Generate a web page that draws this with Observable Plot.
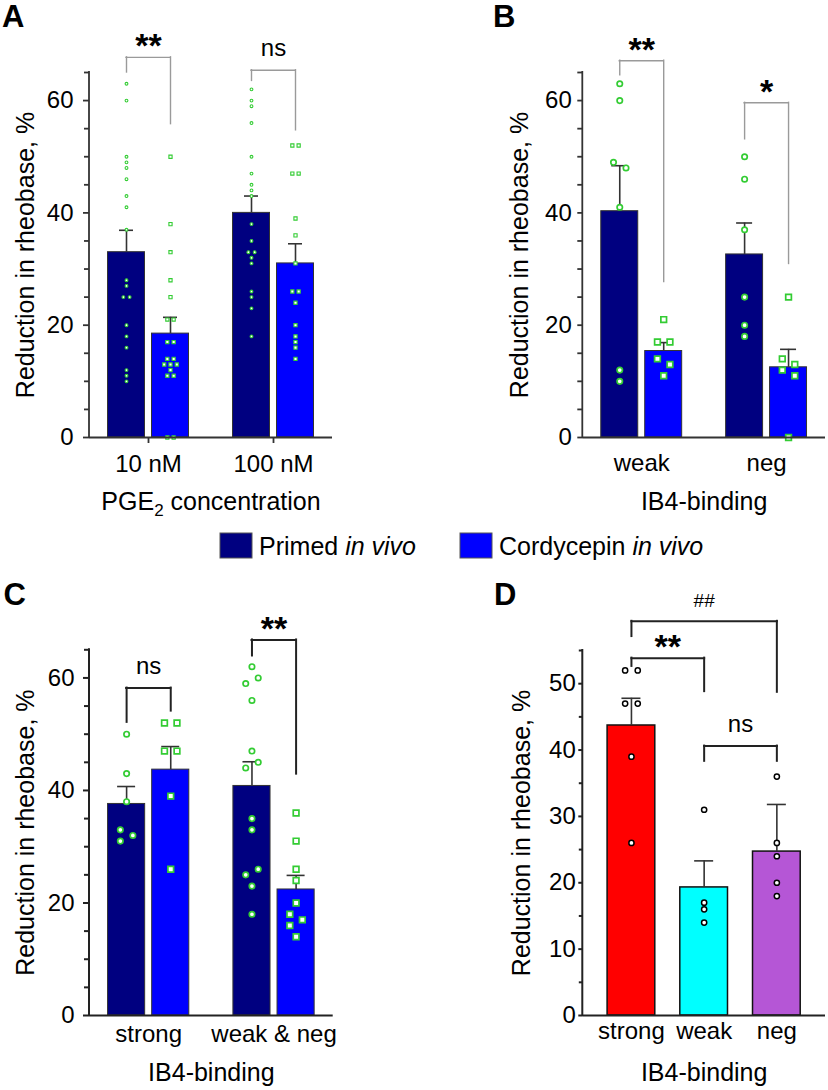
<!DOCTYPE html>
<html>
<head>
<meta charset="utf-8">
<script src="https://cdn.jsdelivr.net/npm/d3@7"></script>
<script src="https://cdn.jsdelivr.net/npm/@observablehq/plot@0.6"></script>
<style>
  body { margin: 0; background: #fff; }
  #fig { position: relative; width: 828px; height: 1090px; overflow: hidden; background: #fff; }
  .panel { position: absolute; }
</style>
</head>
<body>
<div id="fig"></div>
<script>
// ---------------- DATA ----------------
const seriesNames = ["Primed in vivo", "Cordycepin in vivo"];

// Panel A: PGE2 concentration
const aCategories = ["10 nM", "100 nM"];
const aPrimedMean = [33.0, 40.0];
const aPrimedSem  = [3.9, 3.0];
const aCordyMean  = [18.5, 31.0];
const aCordySem   = [2.9, 3.5];
const aPrimed10   = [63, 60, 50, 49, 48, 46, 43, 41, 37, 28, 27, 25, 25, 20, 18, 16, 12, 11, 10];
const aPrimed100  = [62, 60, 59, 56, 50, 47, 45, 44, 43, 38, 35, 33, 33, 32, 31, 26, 25, 23, 18];
const aCordy10    = [50, 38, 33, 28, 25, 21, 21, 17, 17, 14, 14, 13, 13, 13, 12, 11, 11, 0, 0];
const aCordy100   = [52, 52, 47, 47, 39, 36, 31, 26, 26, 24, 20, 18, 17, 16, 14];

// Panel B: IB4-binding (weak / neg)
const bCategories = ["weak", "neg"];
const bPrimedMean = [40.3, 32.6];
const bPrimedSem  = [8.1, 5.6];
const bCordyMean  = [15.4, 12.5];
const bCordySem   = [1.5, 3.2];
const bPrimedWeak = [63, 60, 49, 48, 41, 12, 10];
const bPrimedNeg  = [50, 46, 37, 25, 20, 18];
const bCordyWeak  = [21, 17, 17, 14, 13, 11];
const bCordyNeg   = [25, 14, 13, 12, 11, 0];

// Panel C: IB4-binding (strong / weak & neg)
const cCategories = ["strong", "weak & neg"];
const cPrimedMean = [37.6, 40.8];
const cPrimedSem  = [3.1, 4.3];
const cCordyMean  = [43.7, 22.4];
const cCordySem   = [4.1, 2.5];
const cPrimedStrong  = [50, 43, 38, 33, 32, 31];
const cPrimedWeakNeg = [62, 60, 59, 56, 47, 45, 44, 35, 33, 26, 25, 23, 18];
const cCordyStrong   = [52, 52, 47, 47, 39, 26];
const cCordyWeakNeg  = [36, 31, 26, 24, 20, 18, 17, 16, 14];

// Panel D: IB4-binding (strong / weak / neg)
const dCategories = ["strong", "weak", "neg"];
const dMean = [43.7, 19.3, 24.7];
const dSem  = [4.1, 4.0, 7.1];
const dStrong = [52, 52, 47, 47, 39, 26];
const dWeak   = [31, 17, 16, 14];
const dNeg    = [36, 26, 24, 20, 18];

// Significance brackets (levels in % units)
const aSig = [
  {cat: "10 nM",  label: "**", top: 67.7, left: 65.0, right: 55.8},
  {cat: "100 nM", label: "ns", top: 65.4, left: 63.5, right: 54.7}
];
const bSig = [
  {cat: "weak", label: "**", top: 67.1, left: 64.5, right: 27.7},
  {cat: "neg",  label: "*",  top: 59.6, left: 53.1, right: 30.9}
];
const cSig = [
  {cat: "strong",     label: "ns", top: 58.2,  left: 52.1, right: 54.1},
  {cat: "weak & neg", label: "**", top: 66.75, left: 63.9, right: 42.9}
];
const dSig = [
  {from: "strong", to: "neg",  label: "##", top: 59.4,  left: 57.1, right: 48.7},
  {from: "strong", to: "weak", label: "**", top: 53.85, left: 52.6, right: 48.8},
  {from: "weak",   to: "neg",  label: "ns", top: 40.6,  left: 38.3, right: 38.3}
];

// ---------------- STYLE ----------------
const FONT = "'Liberation Sans', Arial, Helvetica, sans-serif";
const seriesColors = ["#000080", "#0000ff"];
const seriesSymbols = ["circle", "square"];
const dColors = ["#ff0000", "#00ffff", "#b556d6"];
const green = "#33cc33";
const yTitle = "Reduction in rheobase, %";

// beeswarm-like dodge: integer slots, then centre each colliding cluster
function dodge(values, ppu, threshold, ascending) {
  const n = values.length;
  const slot = new Array(n);
  if (!n) return slot;
  const order = d3.range(n).sort((i, j) => ascending ? values[i] - values[j] : values[j] - values[i]);
  const placed = [];
  for (const i of order) {
    for (let k = 0; ; k++) {
      const s = k === 0 ? 0 : (k % 2 ? (k + 1) / 2 : -k / 2);
      if (!placed.some(j => slot[j] === s && Math.abs(values[j] - values[i]) * ppu < threshold)) { slot[i] = s; break; }
    }
    placed.push(i);
  }
  const sorted = d3.range(n).sort((i, j) => values[i] - values[j]);
  const comp = new Array(n);
  let c = 0; comp[sorted[0]] = 0;
  for (let t = 1; t < n; t++) {
    if ((values[sorted[t]] - values[sorted[t - 1]]) * ppu >= threshold) c++;
    comp[sorted[t]] = c;
  }
  for (let k = 0; k <= c; k++) {
    const members = d3.range(n).filter(i => comp[i] === k);
    const mid = (d3.min(members, i => slot[i]) + d3.max(members, i => slot[i])) / 2;
    members.forEach(i => slot[i] -= mid);
  }
  return slot;
}

function yAxisLine(o) {
  return (index, scales, values, dims) =>
    d3.create("svg:line")
      .attr("x1", dims.marginLeft).attr("x2", dims.marginLeft)
      .attr("y1", dims.marginTop).attr("y2", dims.height - dims.marginBottom)
      .attr("stroke", o.axisColor).attr("stroke-width", o.axisWidth)
      .attr("stroke-linecap", "square").node();
}

function axisMarks(o) {
  const major = d3.range(0, o.yMax + 1e-9, o.majorStep);
  const minor = d3.range(0, o.yMax + 1e-9, o.minorStep).filter(v => !major.includes(v));
  return [
    Plot.ruleY([0], {stroke: o.axisColor, strokeWidth: o.axisWidth}),
    yAxisLine(o),
    Plot.axisY({ticks: major, tickSize: o.yTickSize, tickPadding: o.yTickPadding, label: null,
                stroke: o.axisColor, strokeWidth: o.axisWidth, fontSize: 24}),
    Plot.axisY({ticks: minor, tickSize: o.yMinorSize, tickFormat: () => "", label: null,
                stroke: o.axisColor, strokeWidth: o.axisWidth}),
    Plot.axisX({tickSize: o.xTickSize, tickPadding: o.xTickPadding, label: null,
                stroke: o.axisColor, strokeWidth: o.axisWidth, fontSize: 24}),
    Plot.text([yTitle], {frameAnchor: "left", rotate: -90, dx: o.yTitleDx, lineAnchor: "bottom",
                textAnchor: "middle", fontSize: 25, text: d => d}),
    Plot.text([o.xTitle], {frameAnchor: "bottom", dy: o.xTitleDy, lineAnchor: "bottom",
                textAnchor: "middle", fontSize: 25, text: d => d})
  ];
}

function bandGeometry(o, n) {
  const step = (o.width - o.marginLeft - o.marginRight) / (n - o.paddingInner + 2 * o.paddingOuter);
  return {step, bw: step * (1 - o.paddingInner)};
}

function groupedPanel(o) {
  const ppu = (o.height - o.marginTop - o.marginBottom) / o.yMax;
  const {bw} = bandGeometry(o, o.categories.length);
  const barW = bw * o.barFrac;
  const off = (bw - barW) / 2;
  const bars = o.categories.flatMap((c, i) => [0, 1].map(g => ({cat: c, g, mean: o.means[g][i], sem: o.sems[g][i]})));
  const pts = [];
  o.categories.forEach((c, i) => [0, 1].forEach(g => {
    const vals = o.points[g][i];
    const slots = dodge(vals, ppu, o.threshold, o.ascending);
    vals.forEach((v, k) => pts.push({cat: c, g, v, slot: slots[k]}));
  }));
  const marks = [];
  [0, 1].forEach(g => {
    const rows = bars.filter(d => d.g === g);
    const sgn = g ? 1 : -1;
    marks.push(Plot.barY(rows, {x: "cat", y: "mean", fill: seriesColors[g], stroke: o.barStroke,
      strokeWidth: o.barStrokeWidth, insetLeft: g ? bw - barW : 0, insetRight: g ? 0 : bw - barW}));
    marks.push(Plot.ruleX(rows, {x: "cat", y1: "mean", y2: d => d.mean + d.sem, dx: sgn * off,
      stroke: o.errColor, strokeWidth: o.errWidth}));
    marks.push(Plot.tickY(rows, {x: "cat", y: d => d.mean + d.sem,
      insetLeft: bw / 2 + sgn * off - o.capW / 2, insetRight: bw / 2 - sgn * off - o.capW / 2,
      stroke: o.errColor, strokeWidth: o.errWidth}));
  });
  [0, 1].forEach(g => {
    const sgn = g ? 1 : -1;
    const mine = pts.filter(p => p.g === g);
    [...new Set(mine.map(p => p.slot))].forEach(sv => {
      marks.push(Plot.dot(mine.filter(p => p.slot === sv), {x: "cat", y: "v", dx: sgn * off + sv * o.spacing,
        r: o.r[g], symbol: seriesSymbols[g], fill: "white", stroke: green, strokeWidth: o.pointSW}));
    });
  });
  marks.push(...axisMarks(o));
  const bstyle = {stroke: o.bracketColor, strokeWidth: o.bracketWidth, strokeLinecap: "square"};
  marks.push(Plot.ruleX(o.sig, {x: "cat", y1: "left", y2: "top", dx: -off, ...bstyle}));
  marks.push(Plot.ruleX(o.sig, {x: "cat", y1: "right", y2: "top", dx: off, ...bstyle}));
  marks.push(Plot.tickY(o.sig, {x: "cat", y: "top", insetLeft: bw / 2 - off, insetRight: bw / 2 - off, ...bstyle}));
  marks.push(Plot.text(o.sig.filter(d => d.label.includes("*")), {x: "cat", y: "top", text: "label",
    lineAnchor: "bottom", fontSize: 34, fontWeight: "bold"}));
  marks.push(Plot.text(o.sig.filter(d => !d.label.includes("*")), {x: "cat", y: "top", text: "label",
    lineAnchor: "bottom", dy: -14, fontSize: 24}));
  return Plot.plot({
    width: o.width, height: o.height,
    marginLeft: o.marginLeft, marginRight: o.marginRight, marginTop: o.marginTop, marginBottom: o.marginBottom,
    x: {type: "band", domain: o.categories, paddingInner: o.paddingInner, paddingOuter: o.paddingOuter, align: 0.5, round: false},
    y: {domain: [0, o.yMax]},
    style: {background: "transparent", overflow: "visible", fontFamily: FONT, fontSize: "24px", color: "black"},
    marks
  });
}

function singlePanel(o) {
  const ppu = (o.height - o.marginTop - o.marginBottom) / o.yMax;
  const {bw, step} = bandGeometry(o, o.categories.length);
  const rows = o.categories.map((c, i) => ({cat: c, mean: o.means[i], sem: o.sems[i]}));
  const pts = [];
  o.categories.forEach((c, i) => {
    const vals = o.points[i];
    const slots = dodge(vals, ppu, o.threshold, o.ascending);
    vals.forEach((v, k) => pts.push({cat: c, v, slot: slots[k]}));
  });
  const marks = [
    Plot.barY(rows, {x: "cat", y: "mean", fill: "cat", stroke: o.barStroke, strokeWidth: o.barStrokeWidth}),
    Plot.ruleX(rows, {x: "cat", y1: "mean", y2: d => d.mean + d.sem, stroke: o.errColor, strokeWidth: o.errWidth}),
    Plot.tickY(rows, {x: "cat", y: d => d.mean + d.sem, insetLeft: (bw - o.capW) / 2, insetRight: (bw - o.capW) / 2,
      stroke: o.errColor, strokeWidth: o.errWidth})
  ];
  [...new Set(pts.map(p => p.slot))].forEach(sv => {
    marks.push(Plot.dot(pts.filter(p => p.slot === sv), {x: "cat", y: "v", dx: sv * o.spacing,
      r: o.r, fill: "white", stroke: "black", strokeWidth: o.pointSW}));
  });
  marks.push(...axisMarks(o));
  const bstyle = {stroke: o.bracketColor, strokeWidth: o.bracketWidth, strokeLinecap: "square"};
  marks.push(Plot.ruleX(o.sig, {x: "from", y1: "left", y2: "top", ...bstyle}));
  marks.push(Plot.ruleX(o.sig, {x: "to", y1: "right", y2: "top", ...bstyle}));
  marks.push(Plot.link(o.sig, {x1: "from", x2: "to", y1: "top", y2: "top", ...bstyle}));
  o.sig.forEach(s => {
    const span = o.categories.indexOf(s.to) - o.categories.indexOf(s.from);
    const star = s.label.includes("*");
    marks.push(Plot.text([s], {x: "from", y: "top", text: "label", dx: span * step / 2, lineAnchor: "bottom",
      dy: star ? 0 : -14, fontSize: star ? 34 : (s.label === "##" ? 19 : 24), fontWeight: star ? "bold" : "normal"}));
  });
  return Plot.plot({
    width: o.width, height: o.height,
    marginLeft: o.marginLeft, marginRight: o.marginRight, marginTop: o.marginTop, marginBottom: o.marginBottom,
    x: {type: "band", domain: o.categories, paddingInner: o.paddingInner, paddingOuter: o.paddingOuter, align: 0.5, round: false},
    y: {domain: [0, o.yMax]},
    color: {domain: o.categories, range: dColors},
    style: {background: "transparent", overflow: "visible", fontFamily: FONT, fontSize: "24px", color: "black"},
    marks
  });
}

const lightCommon = {
  yMax: 65, majorStep: 20, minorStep: 5, paddingInner: 0.352, paddingOuter: 0.148, barFrac: 37 / 81,
  barStroke: "#333", barStrokeWidth: 1, errColor: "#333", errWidth: 1.6,
  axisColor: "#333", axisWidth: 1.8, yMinorSize: 5
};

const panelA = groupedPanel({
  ...lightCommon, width: 414, height: 520, marginLeft: 89, marginRight: 82, marginTop: 72, marginBottom: 83,
  categories: aCategories, means: [aPrimedMean, aCordyMean], sems: [aPrimedSem, aCordySem],
  points: [[aPrimed10, aPrimed100], [aCordy10, aCordy100]],
  xTickSize: 6, xTickPadding: 11, yTickSize: 6, yTickPadding: 10, capW: 14,
  r: [1.4, 1.8], pointSW: 1.1, spacing: 6.3, threshold: 4, ascending: false,
  bracketColor: "#9a9a9a", bracketWidth: 1.4, sig: aSig,
  xTitle: "PGE2 concentration", xTitleDy: 72, yTitleDx: -56
});

const panelB = groupedPanel({
  ...lightCommon, width: 414, height: 520, marginLeft: 168.3, marginRight: 3, marginTop: 72, marginBottom: 83,
  categories: bCategories, means: [bPrimedMean, bCordyMean], sems: [bPrimedSem, bCordySem],
  points: [[bPrimedWeak, bPrimedNeg], [bCordyWeak, bCordyNeg]],
  xTickSize: 0, xTickPadding: 16, yTickSize: 5, yTickPadding: 6, capW: 16,
  r: [2.7, 3.2], pointSW: 1.7, spacing: 12.5, threshold: 8, ascending: false,
  bracketColor: "#9a9a9a", bracketWidth: 1.4, sig: bSig,
  xTitle: "IB4-binding", xTitleDy: 72, yTitleDx: -55
});

const panelC = groupedPanel({
  ...lightCommon, width: 414, height: 530, marginLeft: 89, marginRight: 81.3, marginTop: 89.3, marginBottom: 75,
  axisColor: "#222", axisWidth: 2,
  categories: cCategories, means: [cPrimedMean, cCordyMean], sems: [cPrimedSem, cCordySem],
  points: [[cPrimedStrong, cPrimedWeakNeg], [cCordyStrong, cCordyWeakNeg]],
  xTickSize: 0, xTickPadding: 9, yTickSize: 6, yTickPadding: 9, capW: 18,
  r: [2.7, 3.2], pointSW: 1.7, spacing: 12.5, threshold: 8, ascending: true,
  bracketColor: "#222", bracketWidth: 2, sig: cSig,
  xTitle: "IB4-binding", xTitleDy: 65, yTitleDx: -56
});

const panelD = singlePanel({
  width: 414, height: 530, marginLeft: 168.3, marginRight: 3, marginTop: 90, marginBottom: 75,
  yMax: 55, majorStep: 10, minorStep: 5, paddingInner: 0.344, paddingOuter: 0.341,
  barStroke: "#111", barStrokeWidth: 1.5, errColor: "#333", errWidth: 1.6,
  axisColor: "#222", axisWidth: 2, yMinorSize: 3.5,
  categories: dCategories, means: dMean, sems: dSem, points: [dStrong, dWeak, dNeg],
  xTickSize: 0, xTickPadding: 6.5, yTickSize: 4, yTickPadding: 3, capW: 19,
  r: 2.6, pointSW: 1.5, spacing: 12.6, threshold: 5, ascending: false,
  bracketColor: "#222", bracketWidth: 2, sig: dSig,
  xTitle: "IB4-binding", xTitleDy: 65, yTitleDx: -53
});

// subscript in "PGE2"
d3.select(panelA).selectAll("text").filter(function () { return this.textContent === "PGE2 concentration"; })
  .each(function () {
    const t = d3.select(this).text(null);
    t.append("tspan").text("PGE");
    t.append("tspan").attr("dy", 6).attr("font-size", 17).text("2");
    t.append("tspan").attr("dy", -6).text(" concentration");
  });

const fig = document.getElementById("fig");
[[panelA, 0, 0], [panelB, 414, 0], [panelC, 0, 560], [panelD, 414, 560]].forEach(([el, x, y]) => {
  el.classList.add("panel");
  el.style.left = x + "px";
  el.style.top = y + "px";
  fig.appendChild(el);
});

// panel letters and legend
const ov = d3.create("svg").attr("width", 828).attr("height", 1090)
  .style("position", "absolute").style("left", "0px").style("top", "0px")
  .style("pointer-events", "none").style("font-family", FONT);
[["A", 2, 27], ["B", 493, 27], ["C", 3.5, 605], ["D", 494, 605]].forEach(([t, x, y]) =>
  ov.append("text").attr("x", x).attr("y", y).attr("font-size", 31).attr("font-weight", "bold").text(t));
const legendX = [220, 460];
seriesNames.forEach((name, i) => {
  const [main] = name.split(" in vivo");
  ov.append("rect").attr("x", legendX[i]).attr("y", 533).attr("width", 32).attr("height", 25)
    .attr("fill", seriesColors[i]).attr("stroke", "#555").attr("stroke-width", 1);
  const t = ov.append("text").attr("x", legendX[i] + 39).attr("y", 555).attr("font-size", 25);
  t.append("tspan").text(main + " ");
  t.append("tspan").attr("font-style", "italic").text("in vivo");
});
fig.appendChild(ov.node());
</script>
</body>
</html>
